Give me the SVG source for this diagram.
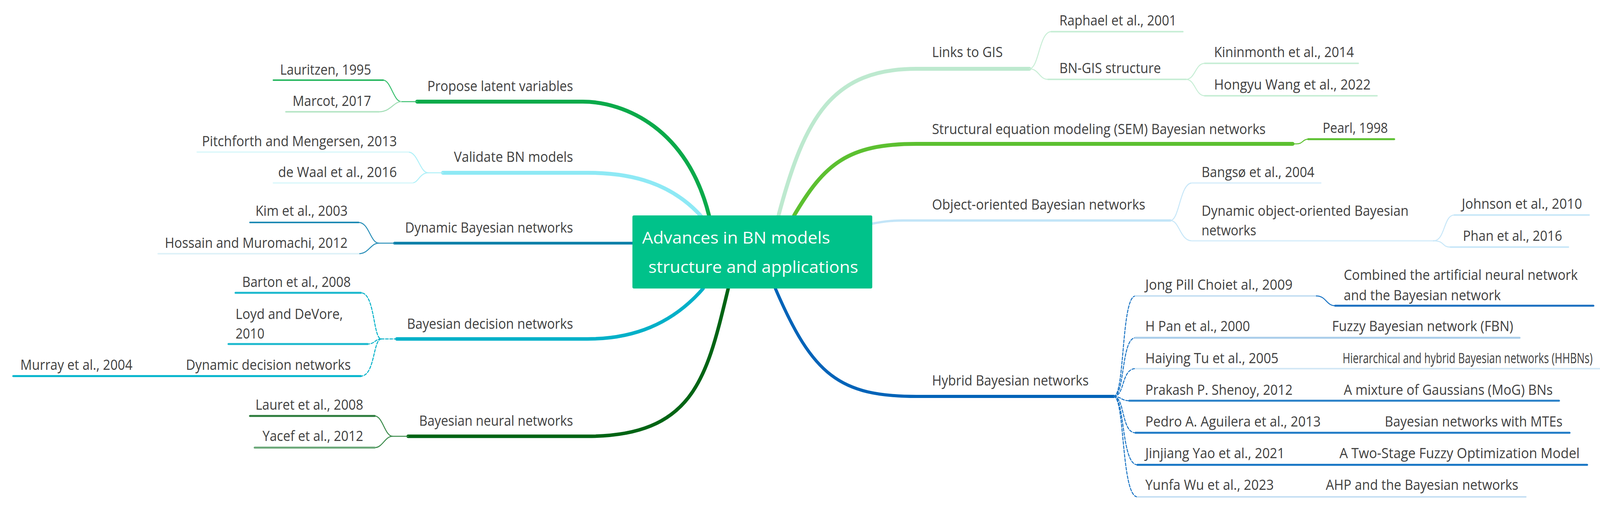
<svg xmlns="http://www.w3.org/2000/svg" width="4317" height="1302" viewBox="0 0 4317 1302">
<style>
text{font-family:"Open Sans","Noto Sans","Liberation Sans",sans-serif;font-size:36px;fill:#404040}
.c{fill:#fff;font-size:42px}
path,line{fill:none;stroke-linecap:round}
.br{stroke-width:2.5}
.dash{stroke-dasharray:7 4}
</style>
<rect width="4317" height="1302" fill="#fff"/>
<g id="connectors">
<path d="M1815,551 C1760,330 1600,260 1492,260 L1068,260" stroke="#0aaa4a" stroke-width="10"/>
<path d="M1795,553 C1720,470 1620,442 1504,442 L1134,442" stroke="#8ee9f5" stroke-width="10"/>
<path d="M1619,622 L1010,622" stroke="#0a7fa8" stroke-width="7"/>
<path d="M1800,738 C1720,830 1620,867 1504,867 L1016,867" stroke="#00b0c8" stroke-width="9"/>
<path d="M1864,739 C1810,960 1780,1116 1504,1116 L1045,1116" stroke="#006414" stroke-width="9"/>
<path d="M1993,551 C2060,300 2130,176 2346,176 L2635,176" stroke="#bde9cf" stroke-width="10"/>
<path d="M2033,551 C2110,420 2170,368 2346,368 L3309,368" stroke="#5cc030" stroke-width="10"/>
<path d="M2233,572 C2270,565 2290,564 2314,564 L2996,564" stroke="#c3e5f8" stroke-width="6"/>
<path d="M1985,738 C2080,960 2150,1014 2346,1014 L2851,1014" stroke="#0063b8" stroke-width="8"/>
<path class="br" d="M1068,260 L1027,260 C1008,260 1000,205 981,205" stroke="#3cc070"/>
<path class="br" d="M1027,260 C1008,260 1000,286 970,286" stroke="#9fdcb3"/>
<line x1="700" y1="205" x2="981" y2="205" stroke="#2bb862" stroke-width="4"/>
<line x1="732" y1="286" x2="970" y2="286" stroke="#b8e6c7" stroke-width="4"/>
<path class="br" d="M1134,442 L1096,442 C1075,442 1070,389 1045,389" stroke="#aef0f8"/>
<path class="br" d="M1096,442 C1075,442 1070,468 1056,468" stroke="#aef0f8"/>
<line x1="505" y1="389" x2="1045" y2="389" stroke="#dff8fb" stroke-width="4"/>
<line x1="700" y1="468" x2="1056" y2="468" stroke="#dff8fb" stroke-width="4"/>
<path class="br" d="M1010,622 L970,622 C948,622 945,569 918,569" stroke="#2a8fb8"/>
<path class="br" d="M970,622 C948,622 945,649 918,649" stroke="#2a8fb8"/>
<line x1="640" y1="569" x2="918" y2="569" stroke="#1e8ab4" stroke-width="4"/>
<line x1="405" y1="649" x2="918" y2="649" stroke="#dff2f8" stroke-width="4"/>
<path class="br dash" d="M1016,867 L976,867 C955,867 960,749 924,749" stroke="#00b0c8"/>
<path class="br dash" d="M976,867 C960,867 960,880 941,880" stroke="#00b0c8"/>
<path class="br dash" d="M976,867 C955,867 960,962 924,962" stroke="#00b0c8"/>
<line x1="603" y1="749" x2="924" y2="749" stroke="#1ab8cd" stroke-width="5"/>
<line x1="585" y1="880" x2="941" y2="880" stroke="#1ab8cd" stroke-width="5"/>
<line x1="34" y1="962" x2="924" y2="962" stroke="#00b4cc" stroke-width="5"/>
<path class="br" d="M1045,1116 L1005,1116 C985,1116 980,1064 959,1064" stroke="#3a8a4a"/>
<path class="br" d="M1005,1116 C985,1116 980,1145 959,1145" stroke="#3a8a4a"/>
<line x1="640" y1="1064" x2="959" y2="1064" stroke="#2a7a3a" stroke-width="5"/>
<line x1="652" y1="1145" x2="959" y2="1145" stroke="#6aa878" stroke-width="5"/>
<path class="br" d="M2635,176 C2660,176 2660,81 2691,81" stroke="#c8eed6"/>
<path class="br" d="M2635,176 C2660,176 2660,203 2683,203" stroke="#c8eed6"/>
<line x1="2691" y1="81" x2="3028" y2="81" stroke="#c8eed6" stroke-width="4"/>
<line x1="2683" y1="203" x2="3036" y2="203" stroke="#c8eed6" stroke-width="4"/>
<path class="br" d="M3036,203 C3060,203 3060,162 3084,162" stroke="#c8eed6"/>
<path class="br" d="M3036,203 C3060,203 3060,245 3084,245" stroke="#c8eed6"/>
<line x1="3084" y1="162" x2="3477" y2="162" stroke="#c8eed6" stroke-width="4"/>
<line x1="3084" y1="245" x2="3525" y2="245" stroke="#c8eed6" stroke-width="4"/>
<path class="br" d="M3309,368 L3320,368 C3335,368 3335,356 3349,356" stroke="#5cc030"/>
<line x1="3349" y1="356" x2="3569" y2="356" stroke="#5cc030" stroke-width="5"/>
<path class="br" d="M2996,564 C3020,564 3020,468 3052,468" stroke="#c8e7f8"/>
<path class="br" d="M2996,564 C3020,564 3020,616 3052,616" stroke="#c8e7f8"/>
<line x1="3052" y1="468" x2="3381" y2="468" stroke="#ddf0fb" stroke-width="4"/>
<line x1="3052" y1="616" x2="3670" y2="616" stroke="#ddf0fb" stroke-width="4"/>
<path class="br" d="M3670,616 C3700,616 3695,550 3723,550" stroke="#c8e7f8"/>
<path class="br" d="M3670,616 C3700,616 3690,632 3713,632" stroke="#c8e7f8"/>
<line x1="3723" y1="550" x2="4068" y2="550" stroke="#c8e7f8" stroke-width="4"/>
<line x1="3713" y1="632" x2="4015" y2="632" stroke="#c8e7f8" stroke-width="4"/>
<path class="br dash" d="M2851,1014 C2880,1014 2870,757 2907,757" stroke="#1a74c4"/>
<path class="br dash" d="M2851,1014 C2880,1014 2870,864 2907,864" stroke="#1a74c4"/>
<path class="br dash" d="M2851,1014 C2880,1014 2870,943 2907,943" stroke="#1a74c4"/>
<path class="br dash" d="M2851,1014 C2870,1014 2870,1025 2891,1025" stroke="#1a74c4"/>
<path class="br dash" d="M2851,1014 C2880,1014 2870,1107 2907,1107" stroke="#1a74c4"/>
<path class="br dash" d="M2851,1014 C2880,1014 2870,1189 2912,1189" stroke="#1a74c4"/>
<path class="br dash" d="M2851,1014 C2880,1014 2870,1271 2912,1271" stroke="#1a74c4"/>
<line x1="2907" y1="757" x2="3370" y2="757" stroke="#c5dff3" stroke-width="4"/>
<path class="br" d="M3370,757 C3395,757 3395,782 3418,782" stroke="#1a74c4"/>
<line x1="3418" y1="782" x2="4079" y2="782" stroke="#1a6fc0" stroke-width="5"/>
<line x1="2907" y1="864" x2="3890" y2="864" stroke="#a9cdea" stroke-width="5"/>
<line x1="2907" y1="943" x2="4285" y2="943" stroke="#d4e8f6" stroke-width="4"/>
<line x1="2891" y1="1025" x2="3991" y2="1025" stroke="#2880c8" stroke-width="5"/>
<line x1="2907" y1="1107" x2="4018" y2="1107" stroke="#1f7ac6" stroke-width="5"/>
<line x1="2912" y1="1189" x2="4063" y2="1189" stroke="#1574c4" stroke-width="5"/>
<line x1="2912" y1="1271" x2="3906" y2="1271" stroke="#c5dff3" stroke-width="4"/>
</g>
<g id="center">
<rect x="1619" y="551" width="614" height="187" rx="4" fill="#00c28a"/>
<text class="c" x="1644" y="623" textLength="481" lengthAdjust="spacingAndGlyphs">Advances in BN models</text>
<text class="c" x="1660" y="698" textLength="537" lengthAdjust="spacingAndGlyphs">structure and applications</text>
</g>
<g id="left-nodes">
<g id="n-propose">
<text x="1094" y="233" textLength="373" lengthAdjust="spacingAndGlyphs">Propose latent variables</text>
<text x="717" y="191" textLength="233" lengthAdjust="spacingAndGlyphs">Lauritzen, 1995</text>
<text x="749" y="271" textLength="201" lengthAdjust="spacingAndGlyphs">Marcot, 2017</text>
</g>
<g id="n-validate">
<text x="1162" y="414" textLength="305" lengthAdjust="spacingAndGlyphs">Validate BN models</text>
<text x="517" y="374" textLength="499" lengthAdjust="spacingAndGlyphs">Pitchforth and Mengersen, 2013</text>
<text x="712" y="453" textLength="304" lengthAdjust="spacingAndGlyphs">de Waal et al., 2016</text>
</g>
<g id="n-dbn">
<text x="1037" y="595" textLength="430" lengthAdjust="spacingAndGlyphs">Dynamic Bayesian networks</text>
<text x="654" y="552" textLength="236" lengthAdjust="spacingAndGlyphs">Kim et al., 2003</text>
<text x="422" y="634" textLength="468" lengthAdjust="spacingAndGlyphs">Hossain and Muromachi, 2012</text>
</g>
<g id="n-bdn">
<text x="1042" y="841" textLength="425" lengthAdjust="spacingAndGlyphs">Bayesian decision networks</text>
<text x="620" y="734" textLength="278" lengthAdjust="spacingAndGlyphs">Barton et al., 2008</text>
<text x="603" y="816" textLength="275" lengthAdjust="spacingAndGlyphs">Loyd and DeVore,</text>
<text x="603" y="866" textLength="74" lengthAdjust="spacingAndGlyphs">2010</text>
<text x="476" y="946" textLength="422" lengthAdjust="spacingAndGlyphs">Dynamic decision networks</text>
<text x="52" y="946" textLength="287" lengthAdjust="spacingAndGlyphs">Murray et al., 2004</text>
</g>
<g id="n-bnn">
<text x="1073" y="1089" textLength="394" lengthAdjust="spacingAndGlyphs">Bayesian neural networks</text>
<text x="654" y="1048" textLength="276" lengthAdjust="spacingAndGlyphs">Lauret et al., 2008</text>
<text x="672" y="1128" textLength="258" lengthAdjust="spacingAndGlyphs">Yacef et al., 2012</text>
</g>
</g>
<g id="right-nodes">
<g id="n-gis">
<text x="2386" y="146" textLength="181" lengthAdjust="spacingAndGlyphs">Links to GIS</text>
<text x="2712" y="65" textLength="300" lengthAdjust="spacingAndGlyphs">Raphael et al., 2001</text>
<text x="2712" y="187" textLength="260" lengthAdjust="spacingAndGlyphs">BN-GIS structure</text>
<text x="3108" y="146" textLength="358" lengthAdjust="spacingAndGlyphs">Kininmonth et al., 2014</text>
<text x="3108" y="229" textLength="401" lengthAdjust="spacingAndGlyphs">Hongyu Wang et al., 2022</text>
</g>
<g id="n-sem">
<text x="2386" y="343" textLength="854" lengthAdjust="spacingAndGlyphs">Structural equation modeling (SEM) Bayesian networks</text>
<text x="3386" y="340" textLength="167" lengthAdjust="spacingAndGlyphs">Pearl, 1998</text>
</g>
<g id="n-oo">
<text x="2386" y="536" textLength="546" lengthAdjust="spacingAndGlyphs">Object-oriented Bayesian networks</text>
<text x="3076" y="453" textLength="289" lengthAdjust="spacingAndGlyphs">Bangsø et al., 2004</text>
<text x="3076" y="552" textLength="530" lengthAdjust="spacingAndGlyphs">Dynamic object-oriented Bayesian</text>
<text x="3076" y="602" textLength="140" lengthAdjust="spacingAndGlyphs">networks</text>
<text x="3742" y="534" textLength="308" lengthAdjust="spacingAndGlyphs">Johnson et al., 2010</text>
<text x="3745" y="616" textLength="254" lengthAdjust="spacingAndGlyphs">Phan et al., 2016</text>
</g>
<g id="n-hybrid">
<text x="2386" y="986" textLength="401" lengthAdjust="spacingAndGlyphs">Hybrid Bayesian networks</text>
<text x="2932" y="741" textLength="377" lengthAdjust="spacingAndGlyphs">Jong Pill Choiet al., 2009</text>
<text x="3440" y="716" textLength="599" lengthAdjust="spacingAndGlyphs">Combined the artificial neural network</text>
<text x="3440" y="768" textLength="402" lengthAdjust="spacingAndGlyphs">and the Bayesian network</text>
<text x="2932" y="847" textLength="268" lengthAdjust="spacingAndGlyphs">H Pan et al., 2000</text>
<text x="3410" y="847" textLength="464" lengthAdjust="spacingAndGlyphs">Fuzzy Bayesian network (FBN)</text>
<text x="2932" y="929" textLength="341" lengthAdjust="spacingAndGlyphs">Haiying Tu et al., 2005</text>
<text x="3437" y="929" textLength="640" lengthAdjust="spacingAndGlyphs">Hierarchical and hybrid Bayesian networks (HHBNs)</text>
<text x="2932" y="1010" textLength="377" lengthAdjust="spacingAndGlyphs">Prakash P. Shenoy, 2012</text>
<text x="3440" y="1010" textLength="535" lengthAdjust="spacingAndGlyphs">A mixture of Gaussians (MoG) BNs</text>
<text x="2932" y="1091" textLength="449" lengthAdjust="spacingAndGlyphs">Pedro A. Aguilera et al., 2013</text>
<text x="3545" y="1091" textLength="455" lengthAdjust="spacingAndGlyphs">Bayesian networks with MTEs</text>
<text x="2932" y="1172" textLength="357" lengthAdjust="spacingAndGlyphs">Jinjiang Yao et al., 2021</text>
<text x="3429" y="1172" textLength="615" lengthAdjust="spacingAndGlyphs">A Two-Stage Fuzzy Optimization Model</text>
<text x="2932" y="1253" textLength="329" lengthAdjust="spacingAndGlyphs">Yunfa Wu et al., 2023</text>
<text x="3394" y="1253" textLength="493" lengthAdjust="spacingAndGlyphs">AHP and the Bayesian networks</text>
</g>
</g>
</svg>
